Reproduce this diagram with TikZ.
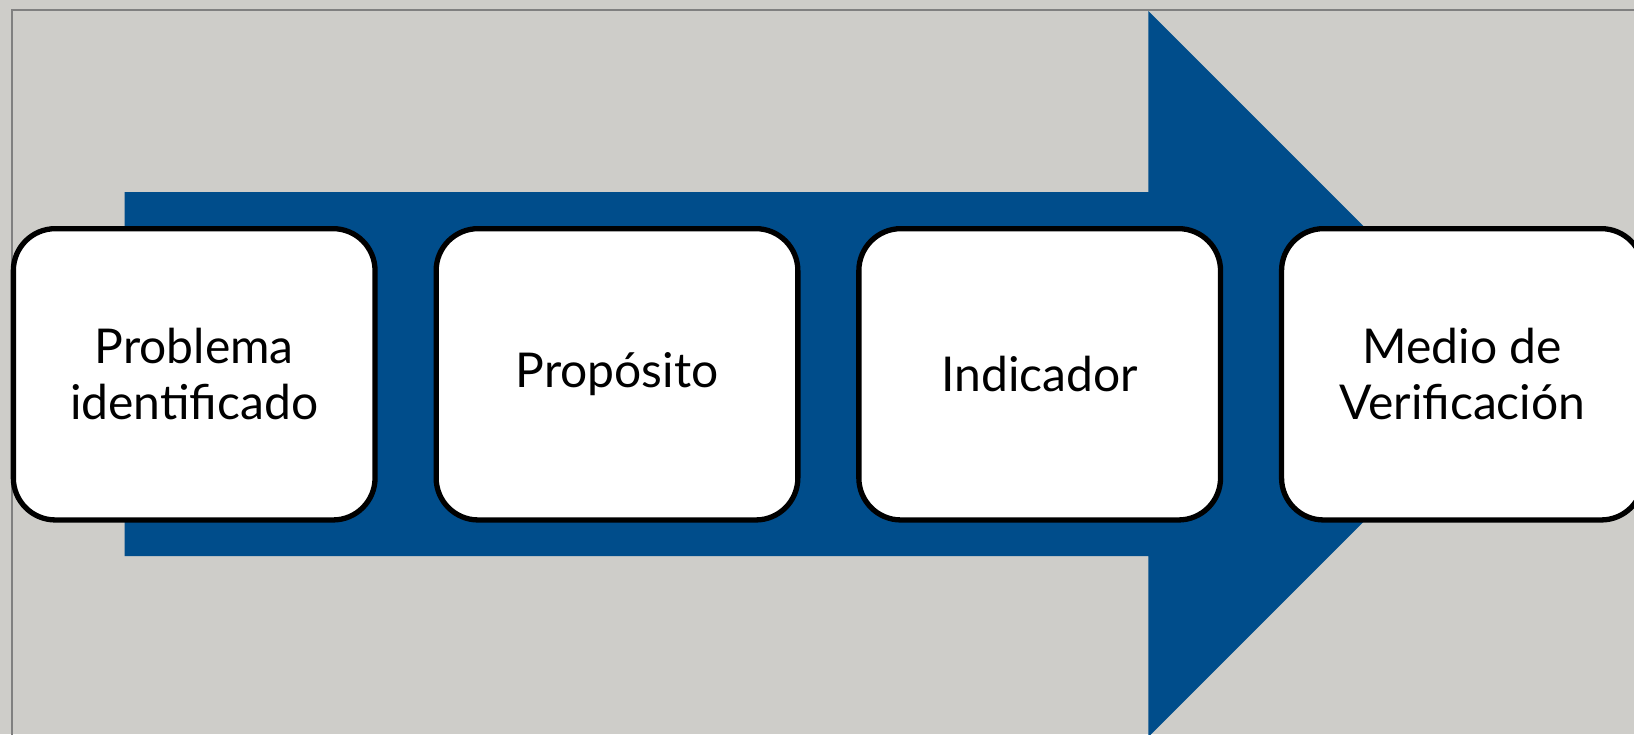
\documentclass[tikz,border=0pt]{standalone}
\usepackage{fontspec}
\setmainfont{Lato}
\definecolor{bg}{HTML}{CECDC9}
\definecolor{arrowblue}{HTML}{004D8B}
\definecolor{framegrey}{HTML}{808080}
\begin{document}
\begin{tikzpicture}[x=0.5pt,y=-0.5pt,
  stepbox/.style={draw=black, line width=2.65pt, fill=white, rounded corners=21pt,
    minimum width=180.85pt, minimum height=145.65pt, inner sep=0pt, align=center,
    font=\fontsize{24}{27.85}\selectfont},
]
\useasboundingbox (0,0) rectangle (1634,734);
\clip (0,0) rectangle (1634,734);
\fill[bg] (0,0) rectangle (1634,734);
\draw[framegrey, line width=1pt] (11.7,760) -- (11.7,9.7) -- (1700,9.7);
\fill[arrowblue] (124.7,192) -- (1148.3,192) -- (1148.3,11) -- (1511.3,374)
  -- (1148.3,737) -- (1148.3,556) -- (124.7,556) -- cycle;
\node[stepbox] (b1) at (194.2,374.3) {Problema\\identificado};
\node[stepbox] (b2) at (617,374.3) {Propósito};
\node[stepbox] (b3) at (1039.7,374.3) {Indicador};
\node[stepbox] (b4) at (1462.4,374.3) {Medio de\\Verificación};
\end{tikzpicture}
\end{document}
